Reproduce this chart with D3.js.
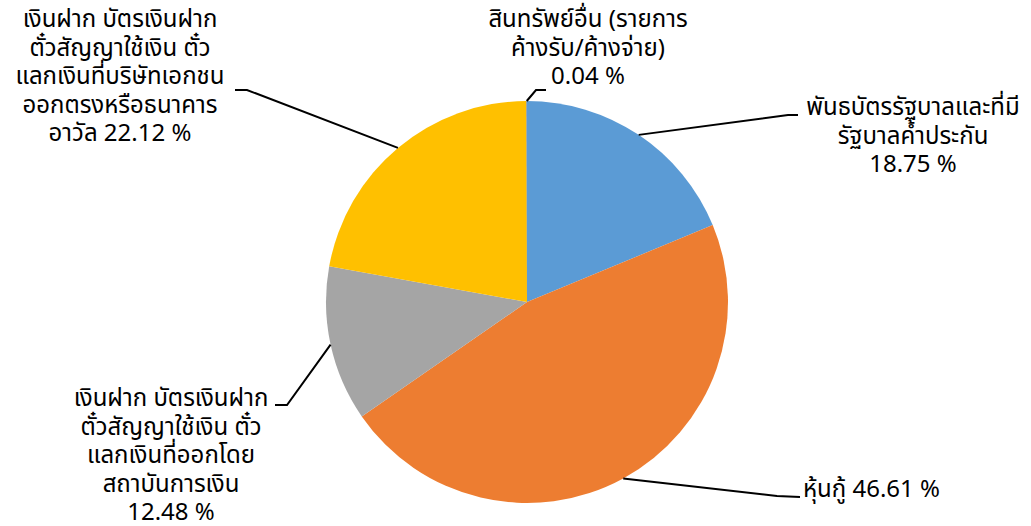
<!DOCTYPE html>
<html>
<head>
<meta charset="utf-8">
<script src="https://cdn.jsdelivr.net/npm/d3@7"></script>
<style>
  html, body { margin: 0; padding: 0; background: #ffffff; }
  svg { display: block; }
  text { font-family: Tahoma, "Noto Sans Thai", "Noto Sans", "DejaVu Sans", sans-serif; fill: #000; }
</style>
</head>
<body>
<svg id="chart" width="1031" height="526"></svg>
<script>
// Asset allocation categories (clockwise from 12 o'clock)
const categories = [
  "พันธบัตรรัฐบาลและที่มีรัฐบาลค้ำประกัน",
  "หุ้นกู้",
  "เงินฝาก บัตรเงินฝาก ตั๋วสัญญาใช้เงิน ตั๋วแลกเงินที่ออกโดยสถาบันการเงิน",
  "เงินฝาก บัตรเงินฝาก ตั๋วสัญญาใช้เงิน ตั๋วแลกเงินที่บริษัทเอกชนออกตรงหรือธนาคารอาวัล",
  "สินทรัพย์อื่น (รายการค้างรับ/ค้างจ่าย)"
];
const values = [18.75, 46.61, 12.48, 22.12, 0.04];
const colors = ["#5B9BD5", "#ED7D31", "#A5A5A5", "#FFC000", "#4472C4"];

// Label text broken into display lines
const labelLines = [
  ["พันธบัตรรัฐบาลและที่มี", "รัฐบาลค้ำประกัน", "18.75 %"],
  ["หุ้นกู้ 46.61 %"],
  ["เงินฝาก บัตรเงินฝาก", "ตั๋วสัญญาใช้เงิน ตั๋ว", "แลกเงินที่ออกโดย", "สถาบันการเงิน", "12.48 %"],
  ["เงินฝาก บัตรเงินฝาก", "ตั๋วสัญญาใช้เงิน ตั๋ว", "แลกเงินที่บริษัทเอกชน", "ออกตรงหรือธนาคาร", "อาวัล 22.12 %"],
  ["สินทรัพย์อื่น (รายการ", "ค้างรับ/ค้างจ่าย)", "0.04 %"]
];

// Label placement: elbow of the leader line, end of leader, text anchor point
const labelLayout = [
  { elbow: [788, 115], end: [798, 115], tx: 913, ty: 108, anchor: "middle" },
  { elbow: [777, 496], end: [800, 497], tx: 803, ty: 490, anchor: "start" },
  { elbow: [287, 405], end: [275, 405], tx: 171, ty: 399, anchor: "middle" },
  { elbow: [247, 90], end: [235, 90], tx: 120, ty: 20, anchor: "middle" },
  { elbow: [536, 90], end: [546, 90], tx: 588, ty: 20, anchor: "middle" }
];

const svg = d3.select("#chart");
const cx = 527, cy = 302, r = 201;
const lineH = 28.5;

const pie = d3.pie().sort(null).value(d => d);
const arcs = pie(values);
const arc = d3.arc().innerRadius(0).outerRadius(r);

const g = svg.append("g").attr("transform", `translate(${cx},${cy})`);
g.selectAll("path.slice")
  .data(arcs)
  .join("path")
  .attr("class", "slice")
  .attr("d", arc)
  .attr("fill", (d, i) => colors[i]);

// Leader lines start at the outer edge of each slice's mid angle
const edgePoint = d => {
  const a = (d.startAngle + d.endAngle) / 2;
  return [cx + r * Math.sin(a), cy - r * Math.cos(a)];
};

svg.selectAll("polyline.leader")
  .data(arcs)
  .join("polyline")
  .attr("class", "leader")
  .attr("points", (d, i) => [edgePoint(d), labelLayout[i].elbow, labelLayout[i].end].map(p => p.join(",")).join(" "))
  .attr("fill", "none")
  .attr("stroke", "#000")
  .attr("stroke-width", 2);

const labels = svg.selectAll("text.label")
  .data(arcs)
  .join("text")
  .attr("class", "label")
  .attr("font-size", 24)
  .attr("text-anchor", (d, i) => labelLayout[i].anchor)
  .attr("dominant-baseline", "central");

labels.each(function(d, i) {
  const L = labelLayout[i];
  d3.select(this).selectAll("tspan")
    .data(labelLines[i])
    .join("tspan")
    .attr("x", L.tx)
    .attr("y", (t, k) => L.ty + k * lineH)
    .text(t => t);
});
</script>
</body>
</html>
